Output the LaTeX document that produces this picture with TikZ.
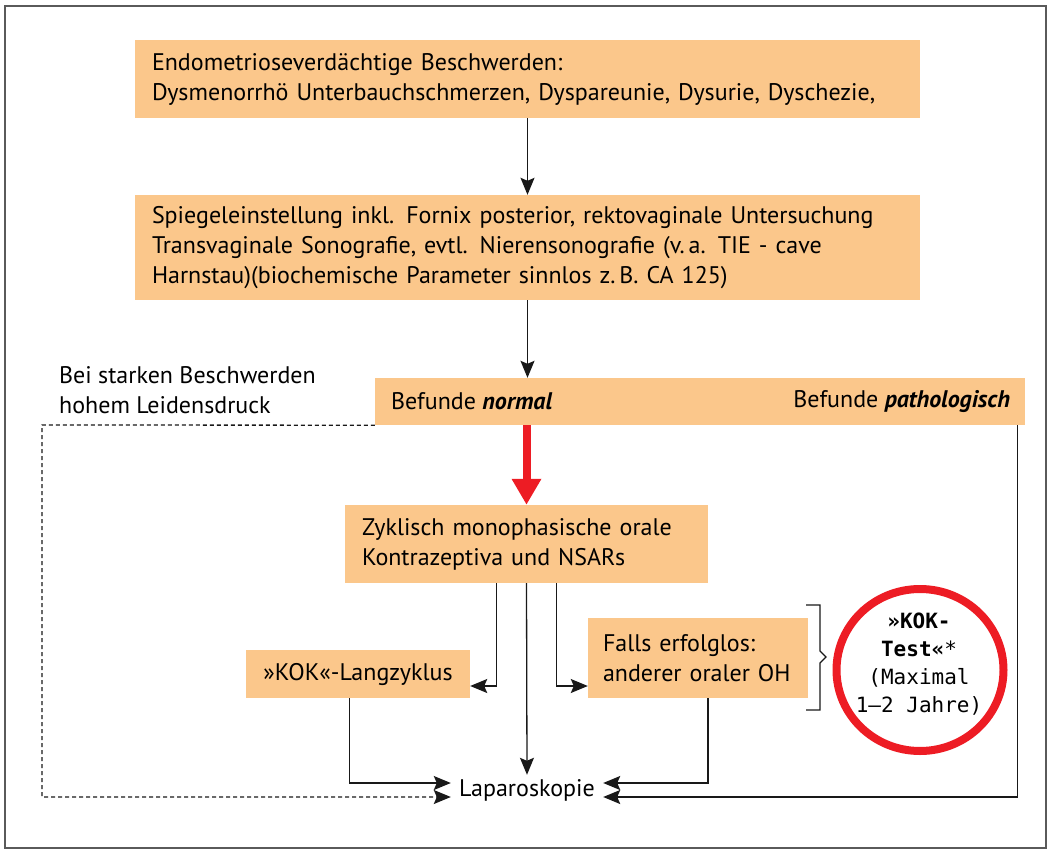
\documentclass[tikz,border=0pt]{standalone}
\usepackage{fontspec}
\setmainfont{PT Sans}
\newfontfamily\kokfont{DejaVu Sans Mono}
\usetikzlibrary{calc,arrows.meta,shapes.geometric}
\definecolor{boxfill}{RGB}{251,199,139}
\definecolor{kred}{RGB}{237,28,36}
\definecolor{framegray}{RGB}{90,90,90}
\begin{document}
\begin{tikzpicture}[x=1pt,y=-1pt,
  txt/.style={font=\fontsize{24}{30}\selectfont},
  box/.style={txt, fill=boxfill, inner xsep=17pt, inner ysep=0pt, align=left},
  conn/.style={line width=1.3pt, draw=black!90},
  arr/.style={conn, -{Stealth[length=17pt,width=14pt,inset=3pt]}},
  redarr/.style={draw=kred, line width=8pt, -{Triangle[length=26pt,width=28pt]}}
]
\useasboundingbox (0,0) rectangle (1050,851);
\draw[framegray, line width=1.5pt] (5,6) rectangle (1046,848);

\node[box, text width=751pt, minimum height=78pt] (b1) at (527.5,79)
  {Endometrioseverdächtige Beschwerden:\\Dysmenorrhö Unterbauchschmerzen, Dyspareunie, Dysurie, Dyschezie,};
\node[box, text width=751pt, minimum height=105pt] (b2) at (527.5,247.5)
  {Spiegeleinstellung inkl. Fornix posterior, rektovaginale Untersuchung\\Transvaginale Sonografie, evtl. Nierensonografie (v.\,a. TIE - cave\\Harnstau)(biochemische Parameter sinnlos z.\,B. CA 125)};
\node[fill=boxfill, minimum width=650pt, minimum height=47pt, inner sep=0pt] (b3) at (700,401.5) {};
\node[txt, anchor=west, inner sep=0pt] (bn) at ($(b3.west)+(16,0)$) {Befunde \textbf{\textit{normal}}};
\node[txt, anchor=east, inner sep=0pt] (bp) at ($(b3.east)+(-15,0)$) {Befunde \textbf{\textit{pathologisch}}};
\node[txt, anchor=west, inner sep=0pt, align=left] (bei) at (59,390) {Bei starken Beschwerden\\hohem Leidensdruck};

\node[box, text width=329pt, minimum height=78pt] (b4) at (526.5,544)
  {Zyklisch monophasische orale\\Kontrazeptiva und NSARs};
\node[box, align=center, text width=190pt, minimum height=48pt] (b5) at (358,674)
  {»KOK«-Langzyklus};
\node[box, inner xsep=15pt, text width=190pt, minimum height=80pt] (b6) at (698,658)
  {Falls erfolglos:\\anderer oraler OH};
\node[txt, minimum width=152pt, minimum height=30pt, inner sep=0pt] (L) at (527,790) {Laparoskopie};

\node[ellipse, draw=kred, line width=8pt, minimum width=167pt, minimum height=162pt, inner sep=0pt] (c) at (920,670) {};
\node[align=center, font=\kokfont\fontsize{21}{28}\selectfont, inner sep=0pt] (ct) at (919,664)
  {\textbf{»KOK-}\\\textbf{Test«}*\\(Maximal\\1–2 Jahre)};

% helper coordinates
\coordinate (ky) at (0,686);
\coordinate (Lwu) at ($(L.west)+(0,-7)$);
\coordinate (Lwl) at ($(L.west)+(0,7)$);
\coordinate (Leu) at ($(L.east)+(0,-7)$);
\coordinate (Lel) at ($(L.east)+(0,7)$);
\coordinate (dcorner) at (42,425);
\coordinate (b4l) at ($(b4.south)+(-30,0)$);
\coordinate (b4r) at ($(b4.south)+(30,0)$);
\coordinate (b5d) at ($(b5.south west)+(104,0)$);
\coordinate (b6d) at ($(b6.south)+(10,0)$);
\coordinate (b3d) at ($(b3.south east)+(-8,0)$);

% connectors
\draw[arr] (b1.south) -- (b2.north);
\draw[arr] (b2.south) -- (b2.south |- b3.north);
\draw[redarr] (b4.north |- b3.south) -- (b4.north);
\draw[arr] (b4l) |- (b5.east |- ky);
\draw[arr] (b4r) |- (b6.west |- ky);
\draw[arr] (b4.south) -- (L.north);
\draw[arr] (b5d) |- (Lwu);
\draw[arr] (b6d) |- (Leu);
\draw[arr] (b3d) |- (Lel);
\draw[arr, dash pattern=on 4pt off 3pt] (b3.south west) -- (dcorner) |- (Lwl);

% brace
\draw[conn] (806,605) -- (820,605) -- (820,651) -- (826,657) -- (820,663) -- (820,710) -- (806,710);
\end{tikzpicture}
\end{document}
